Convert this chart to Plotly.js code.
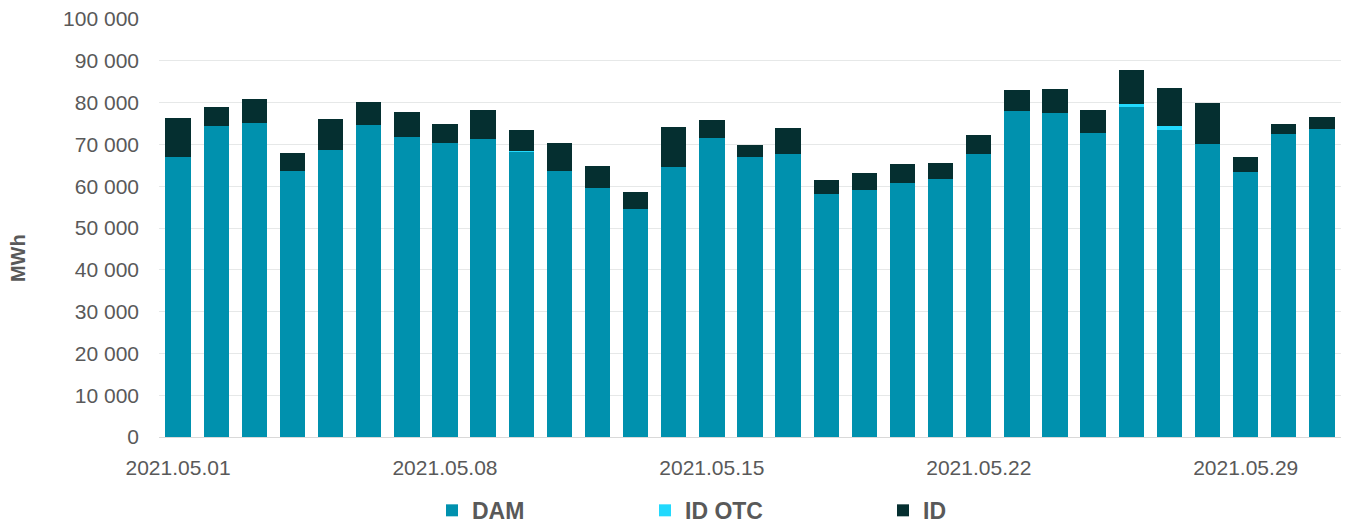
<!DOCTYPE html>
<html>
<head>
<meta charset="utf-8">
<script src="https://cdn.plot.ly/plotly-3.0.1.min.js"></script>
<style>
html,body{margin:0;padding:0;background:#fff;}
#chart{width:1347px;height:524px;}
</style>
</head>
<body>
<div id="chart"></div>
<script>
const dates = ["2021.05.01","2021.05.02","2021.05.03","2021.05.04","2021.05.05","2021.05.06","2021.05.07","2021.05.08","2021.05.09","2021.05.10","2021.05.11","2021.05.12","2021.05.13","2021.05.14","2021.05.15","2021.05.16","2021.05.17","2021.05.18","2021.05.19","2021.05.20","2021.05.21","2021.05.22","2021.05.23","2021.05.24","2021.05.25","2021.05.26","2021.05.27","2021.05.28","2021.05.29","2021.05.30","2021.05.31"];
const dam = [67000,74400,75200,63700,68700,74700,71800,70400,71400,68100,63700,59500,54600,64500,71600,67100,67600,58200,59000,60800,61800,67600,78000,77500,72800,79000,73500,70000,63400,72500,73700];
const idOtc = [0,0,0,0,0,0,0,0,0,300,0,0,0,0,0,0,0,0,0,0,0,0,0,0,0,700,900,0,0,0,0];
const idVals = [9300,4600,5600,4200,7300,5500,5900,4500,6800,5000,6600,5400,3900,9700,4200,2700,6400,3300,4100,4500,3800,4600,4900,5800,5400,8000,9000,9800,3700,2400,2800];
const tickLabels = ["2021.05.01","2021.05.08","2021.05.15","2021.05.22","2021.05.29"];
const seriesNames = ["DAM","ID OTC","ID"];

const textColor = "#595959";
const fontFam = "Liberation Sans, Arial, sans-serif";

const traces = [
  {type:"bar", name:seriesNames[0], x:dates, y:dam, marker:{color:"#0091ae"}, legend:"legend"},
  {type:"bar", name:seriesNames[1], x:dates, y:idOtc, marker:{color:"#22d9fd"}, legend:"legend2"},
  {type:"bar", name:seriesNames[2], x:dates, y:idVals, marker:{color:"#052f30"}, legend:"legend3"}
];

const legFont = {family:fontFam, size:23, color:textColor, weight:"bold"};
const legBase = {orientation:"h", xref:"container", yref:"container", xanchor:"left", yanchor:"middle", y:0.026, font:legFont, bgcolor:"rgba(0,0,0,0)", borderwidth:0};

const layout = {
  width:1347, height:524,
  margin:{l:159, r:6, t:19, b:87, autoexpand:false},
  paper_bgcolor:"#fff", plot_bgcolor:"#fff",
  barmode:"stack", bargap:0.335,
  separators:", ",
  font:{family:fontFam, size:21, color:textColor},
  showlegend:true,
  legend:Object.assign({}, legBase, {x:432/1347}),
  legend2:Object.assign({}, legBase, {x:645/1347}),
  legend3:Object.assign({}, legBase, {x:883/1347}),
  xaxis:{
    type:"category",
    tickmode:"array", tickvals:tickLabels, ticktext:tickLabels,
    showgrid:false, showline:true, linecolor:"#d9d9d9", linewidth:1,
    ticks:"", tickfont:{family:fontFam, size:21, color:textColor},
    ticklabelstandoff:12
  },
  yaxis:{
    range:[0,100000], dtick:10000, tickformat:",d",
    showgrid:true, gridcolor:"#e6e8e8", gridwidth:1,
    zeroline:false, showline:false, ticks:"",
    tickfont:{family:fontFam, size:21, color:textColor},
    ticklabelstandoff:19
  },
  annotations:[{
    text:"MWh", textangle:-90, showarrow:false,
    xref:"paper", yref:"paper", x:-0.1193, y:0.428,
    xanchor:"center", yanchor:"middle",
    font:{family:fontFam, size:20, color:textColor, weight:"bold"}
  }],
  hovermode:false
};

Plotly.newPlot("chart", traces, layout, {displayModeBar:false, staticPlot:true});
</script>
</body>
</html>
